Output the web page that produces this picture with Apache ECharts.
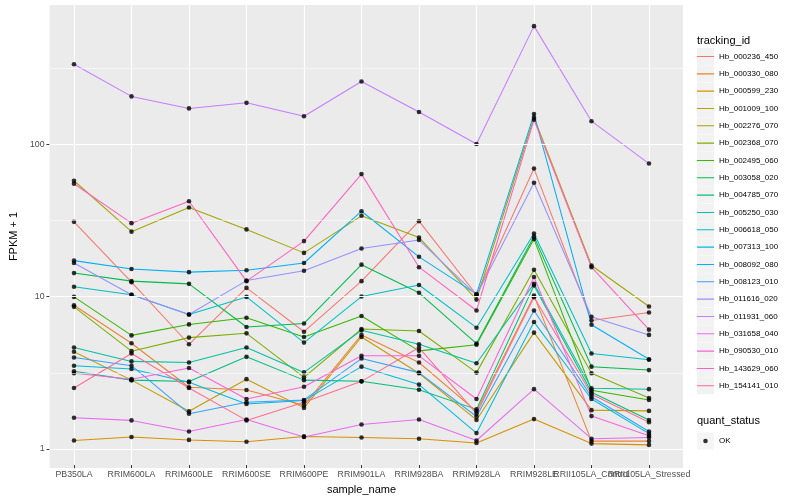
<!DOCTYPE html>
<html><head><meta charset="utf-8">
<script src="https://cdn.jsdelivr.net/npm/echarts@6/dist/echarts.min.js"></script>
<style>html,body{margin:0;padding:0;background:#fff}#c{width:800px;height:500px}</style>
</head><body><div id="c"></div>
<script>
// ---- data ----
const categories = ['PB350LA','RRIM600LA','RRIM600LE','RRIM600SE','RRIM600PE','RRIM901LA','RRIM928BA','RRIM928LA','RRIM928LE','RRII105LA_Control','RRII105LA_Stressed'];
const trackingIds = ['Hb_000236_450','Hb_000330_080','Hb_000599_230','Hb_001009_100','Hb_002276_070','Hb_002368_070','Hb_002495_060','Hb_003058_020','Hb_004785_070','Hb_005250_030','Hb_006618_050','Hb_007313_100','Hb_008092_080','Hb_008123_010','Hb_011616_020','Hb_011931_060','Hb_031658_040','Hb_090530_010','Hb_143629_060','Hb_154141_010'];
const seriesColors = ['#F8766D','#EA8331','#D89000','#C09B00','#A3A500','#7CAE00','#39B600','#00BB4E','#00BF7D','#00C1A3','#00BFC4','#00BAE0','#00B0F6','#35A2FF','#9590FF','#C77CFF','#E76BF3','#FA62DB','#FF62BC','#FF6C91'];

const hb_000236_450 = [30.3, 12.1, 4.71, 11.1, 5.70, 12.3, 30.6, 10.0, 68.1, 6.76, 7.63];
const hb_000330_080 = [8.53, 4.78, 2.45, 2.35, 1.86, 5.43, 3.57, 1.70, 9.86, 1.08, 1.08];
const hb_000599_230 = [1.09, 1.15, 1.10, 1.07, 1.16, 1.14, 1.12, 1.05, 1.51, 1.04, 1.02];
const hb_001009_100 = [4.20, 2.73, 1.70, 2.77, 1.79, 5.26, 3.03, 1.49, 5.62, 1.73, 1.71];
const hb_002276_070 = [56.6, 26.1, 37.7, 27.0, 18.9, 33.2, 23.9, 9.29, 148, 15.6, 8.36];
const hb_002368_070 = [8.32, 4.24, 5.21, 5.56, 2.85, 5.94, 5.76, 3.06, 14.6, 3.03, 2.08];
const hb_002495_060 = [9.68, 5.39, 6.37, 7.05, 5.26, 7.23, 4.26, 4.67, 23.3, 2.34, 2.02];
const hb_003058_020 = [13.9, 12.3, 11.8, 6.12, 6.46, 15.8, 10.3, 4.76, 24.2, 3.35, 3.18];
const hb_004785_070 = [3.12, 2.73, 2.67, 3.89, 2.73, 2.68, 2.36, 1.75, 11.5, 2.27, 1.49];
const hb_005250_030 = [4.48, 3.63, 3.57, 4.48, 3.07, 5.82, 4.71, 3.53, 11.8, 2.41, 2.38];
const hb_006618_050 = [11.3, 10.0, 7.40, 9.68, 4.83, 9.73, 11.6, 6.06, 25.4, 4.09, 3.72];
const hb_007313_100 = [3.40, 3.23, 2.64, 1.90, 2.00, 3.35, 2.55, 1.22, 6.60, 2.05, 1.21];
const hb_008092_080 = [16.8, 14.8, 14.1, 14.5, 16.2, 35.6, 17.8, 10.1, 156, 6.34, 3.75];
const hb_008123_010 = [3.85, 3.40, 1.64, 1.95, 2.02, 3.79, 3.06, 1.57, 7.87, 2.12, 1.25];
const hb_011616_020 = [16.2, 10.0, 7.40, 12.4, 14.4, 20.2, 23.0, 9.93, 54.9, 7.15, 5.43];
const hb_011931_060 = [333, 204, 170, 185, 151, 256, 161, 98.9, 594, 140, 73.5];
const hb_031658_040 = [1.54, 1.48, 1.25, 1.50, 1.15, 1.39, 1.50, 1.09, 2.38, 1.12, 1.14];
const hb_090530_010 = [3.03, 2.77, 3.28, 2.05, 2.47, 3.95, 3.95, 2.05, 13.1, 1.58, 1.17];
const hb_143629_060 = [54.1, 29.7, 41.4, 12.3, 22.6, 62.6, 15.2, 7.87, 143, 15.2, 5.88];
const hb_154141_010 = [2.42, 4.09, 2.42, 1.48, 1.95, 2.68, 4.48, 1.64, 9.63, 2.20, 1.44];

const seriesValues = [hb_000236_450, hb_000330_080, hb_000599_230, hb_001009_100, hb_002276_070, hb_002368_070, hb_002495_060, hb_003058_020, hb_004785_070, hb_005250_030, hb_006618_050, hb_007313_100, hb_008092_080, hb_008123_010, hb_011616_020, hb_011931_060, hb_031658_040, hb_090530_010, hb_143629_060, hb_154141_010];

const yTicks = [1, 10, 100];
const yMinorBreaks = [3.162, 31.62, 316.2];
const yMin = 0.75, yMax = 819;

// ---- chart ----
const font = 'Liberation Sans, Arial, Helvetica, sans-serif';
const chart = echarts.init(document.getElementById('c'), null, {renderer: 'canvas'});

const series = [];
series.push({
  type: 'line', name: '_grid', xAxisIndex: 0, yAxisIndex: 0, data: [], silent: true, z: 1,
  markLine: {
    silent: true, symbol: 'none', animation: false, label: {show: false},
    lineStyle: {type: 'solid', color: '#FFFFFF'},
    emphasis: {disabled: true},
    data: yMinorBreaks.map(v => ({yAxis: v, lineStyle: {color: '#FFFFFF', width: 0.55, type: 'solid'}}))
      .concat(yTicks.map(v => ({yAxis: v, lineStyle: {color: '#FFFFFF', width: 1.1, type: 'solid'}})))
  }
});
trackingIds.forEach((id, i) => {
  series.push({
    type: 'line', name: id, xAxisIndex: 1, yAxisIndex: 1, data: seriesValues[i],
    symbol: 'none', showSymbol: false, color: seriesColors[i],
    lineStyle: {width: 1.05, color: seriesColors[i]}, itemStyle: {color: seriesColors[i]},
    z: 2, silent: true, emphasis: {disabled: true}, animation: false
  });
});
const okPoints = [];
seriesValues.forEach(vals => vals.forEach((v, j) => okPoints.push([categories[j], v])));
series.push({
  type: 'scatter', name: 'OK', xAxisIndex: 1, yAxisIndex: 1, data: okPoints,
  symbol: 'circle', symbolSize: 4.6, itemStyle: {color: '#000000'}, z: 3, silent: true, animation: false
});

const lineIcon = 'path://M0,0L0.01,0M0,17L0.01,17M0,7.95L17,7.95L17,9.05L0,9.05Z';
const dotIcon = 'path://M0,0L0.01,0M0,17L0.01,17M17,0L17.01,0M6.2,8.5A2.3,2.3,0,1,1,10.8,8.5A2.3,2.3,0,1,1,6.2,8.5Z';
const legendBase = {orient: 'vertical', left: 697, itemWidth: 17, itemHeight: 17, itemGap: 0.33, selectedMode: false, padding: 0};

const option = {
  animation: false,
  backgroundColor: '#FFFFFF',
  textStyle: {fontFamily: font},
  title: [
    {text: 'tracking_id', left: 697, top: 34, padding: 0, textStyle: {fontSize: 11, fontWeight: 'normal', color: '#000', fontFamily: font, lineHeight: 13}},
    {text: 'quant_status', left: 697, top: 414, padding: 0, textStyle: {fontSize: 11, fontWeight: 'normal', color: '#000', fontFamily: font, lineHeight: 13}}
  ],
  grid: [
    {left: 40, right: 117, top: 5, bottom: 32, show: true, backgroundColor: '#EBEBEB', borderWidth: 0, containLabel: false},
    {left: 74, right: 151, top: 5, bottom: 32, show: false, containLabel: false}
  ],
  xAxis: [
    {gridIndex: 0, type: 'value', show: false, min: 0, max: 1},
    {gridIndex: 1, type: 'category', data: categories, boundaryGap: false,
     axisLine: {show: false},
     axisTick: {show: true, length: 3, interval: 0, lineStyle: {color: '#333333', width: 1}},
     axisLabel: {interval: 0, margin: 5, fontSize: 8.8, color: '#4D4D4D', fontFamily: font},
     splitLine: {show: true, interval: 0, lineStyle: {color: '#FFFFFF', width: 1.1}},
     name: 'sample_name', nameLocation: 'middle', nameGap: 15,
     nameTextStyle: {fontSize: 11, color: '#000', fontFamily: font}}
  ],
  yAxis: [
    {gridIndex: 0, type: 'log', logBase: 10, min: yMin, max: yMax,
     axisLine: {show: false},
     axisTick: {show: true, length: 3, customValues: yTicks, lineStyle: {color: '#333333', width: 1}},
     axisLabel: {customValues: yTicks, margin: 5, fontSize: 8.8, color: '#4D4D4D', fontFamily: font},
     splitLine: {show: false}, minorSplitLine: {show: false},
     name: 'FPKM + 1', nameLocation: 'middle', nameRotate: 90, nameGap: 24,
     nameTextStyle: {fontSize: 11, color: '#000', fontFamily: font}},
    {gridIndex: 1, type: 'log', logBase: 10, min: yMin, max: yMax, show: false}
  ],
  legend: [
    Object.assign({}, legendBase, {top: 48, icon: 'rect', data: trackingIds,
      itemStyle: {color: '#F2F2F2', borderWidth: 0},
      textStyle: {fontSize: 8, color: 'rgba(0,0,0,0)', fontFamily: font}}),
    Object.assign({}, legendBase, {top: 48, icon: lineIcon, data: trackingIds,
      itemStyle: {borderWidth: 0},
      textStyle: {fontSize: 8, color: '#000000', fontFamily: font}}),
    Object.assign({}, legendBase, {top: 432.5, icon: 'rect', data: ['OK'],
      itemStyle: {color: '#F2F2F2', borderWidth: 0},
      textStyle: {fontSize: 8, color: 'rgba(0,0,0,0)', fontFamily: font}}),
    Object.assign({}, legendBase, {top: 432.5, icon: dotIcon, data: ['OK'],
      itemStyle: {color: '#000000', borderWidth: 0},
      textStyle: {fontSize: 8, color: '#000000', fontFamily: font}})
  ],
  series: series
};
chart.setOption(option);
</script>
</body></html>
